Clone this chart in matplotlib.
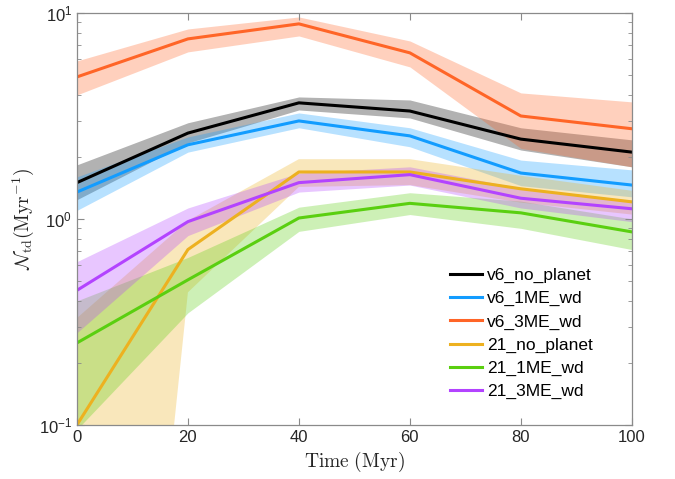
import matplotlib
matplotlib.use("Agg")
import matplotlib.pyplot as plt
from matplotlib.ticker import LogLocator, NullFormatter

plt.rcParams["font.family"] = ["Liberation Sans", "DejaVu Sans"]
plt.rcParams["mathtext.fontset"] = "custom"
plt.rcParams["mathtext.rm"] = "Liberation Sans"
plt.rcParams["mathtext.it"] = "Liberation Sans:italic"
plt.rcParams["mathtext.bf"] = "Liberation Sans:bold"

# time (Myr)
time = [0, 20, 40, 60, 80, 100]

names = ["v6_no_planet", "v6_1ME_wd", "v6_3ME_wd",
         "21_no_planet", "21_1ME_wd", "21_3ME_wd"]
colors = ["#000000", "#129CFF", "#FF6527", "#EDB120", "#5ACF10", "#B343FF"]

v6_no_planet = [1.50, 2.61, 3.66, 3.34, 2.44, 2.11]
v6_no_planet_lo = [1.24, 2.34, 3.38, 3.09, 2.16, 1.79]
v6_no_planet_hi = [1.83, 2.93, 3.91, 3.78, 2.77, 2.42]

v6_1ME_wd = [1.35, 2.29, 2.99, 2.53, 1.67, 1.46]
v6_1ME_wd_lo = [1.10, 2.11, 2.77, 2.24, 1.45, 1.28]
v6_1ME_wd_hi = [1.60, 2.50, 3.27, 2.77, 1.93, 1.73]

v6_3ME_wd = [4.89, 7.48, 8.85, 6.40, 3.16, 2.74]
v6_3ME_wd_lo = [4.00, 6.47, 7.73, 5.47, 2.20, 1.79]
v6_3ME_wd_hi = [5.85, 8.36, 9.56, 7.31, 4.09, 3.70]

n21_no_planet = [0.10, 0.71, 1.69, 1.69, 1.40, 1.21]
n21_no_planet_lo = [3e-6, 0.44, 1.43, 1.46, 1.20, 1.05]
n21_no_planet_hi = [0.33, 0.98, 1.95, 1.95, 1.62, 1.37]

n21_1ME_wd = [0.25, 0.506, 1.01, 1.19, 1.07, 0.865]
n21_1ME_wd_lo = [0.095, 0.35, 0.87, 1.05, 0.90, 0.71]
n21_1ME_wd_hi = [0.40, 0.65, 1.14, 1.34, 1.22, 1.00]

n21_3ME_wd = [0.45, 0.97, 1.50, 1.64, 1.26, 1.12]
n21_3ME_wd_lo = [0.28, 0.83, 1.35, 1.46, 1.13, 0.97]
n21_3ME_wd_hi = [0.62, 1.13, 1.67, 1.79, 1.41, 1.23]

means = [v6_no_planet, v6_1ME_wd, v6_3ME_wd, n21_no_planet, n21_1ME_wd, n21_3ME_wd]
lows = [v6_no_planet_lo, v6_1ME_wd_lo, v6_3ME_wd_lo,
        n21_no_planet_lo, n21_1ME_wd_lo, n21_3ME_wd_lo]
highs = [v6_no_planet_hi, v6_1ME_wd_hi, v6_3ME_wd_hi,
         n21_no_planet_hi, n21_1ME_wd_hi, n21_3ME_wd_hi]

fig = plt.figure(figsize=(6.75, 4.79), dpi=100)
ax = fig.add_axes([0.114, 0.113, 0.822, 0.86])

for m, lo, hi, c in zip(means, lows, highs, colors):
    ax.fill_between(time, lo, hi, color=c, alpha=0.3, lw=0)
for m, c, n in zip(means, colors, names):
    ax.plot(time, m, color=c, lw=2.2, label=n)

ax.set_yscale("log")
ax.set_xlim(0, 100)
ax.set_ylim(0.1, 10)
ax.set_xticks([0, 20, 40, 60, 80, 100])
ax.yaxis.set_minor_locator(LogLocator(base=10, subs=range(2, 10)))
ax.yaxis.set_minor_formatter(NullFormatter())

gc = "#8a8a8a"
for s in ax.spines.values():
    s.set_color(gc)
    s.set_linewidth(0.9)
ax.tick_params(which="both", direction="in", top=True, right=True,
               color=gc, labelcolor="#262626", labelsize=12)
ax.tick_params(which="major", length=5)
ax.tick_params(which="minor", length=3)

ax.set_xlabel(r"$\mathrm{Time\ (Myr)}$", fontsize=14, math_fontfamily="cm",
              color="#262626", labelpad=4)
ax.set_ylabel(r"$\mathcal{N}_{\rm td}(\mathrm{Myr}^{-1})$", fontsize=14,
              math_fontfamily="cm", color="#262626", labelpad=2)

ax.legend(loc="lower right", bbox_to_anchor=(0.942, 0.045), frameon=False,
          fontsize=12.5, handlelength=1.85, handletextpad=0.3,
          labelspacing=0.46, borderaxespad=0)

fig.savefig("out.png", dpi=100)
